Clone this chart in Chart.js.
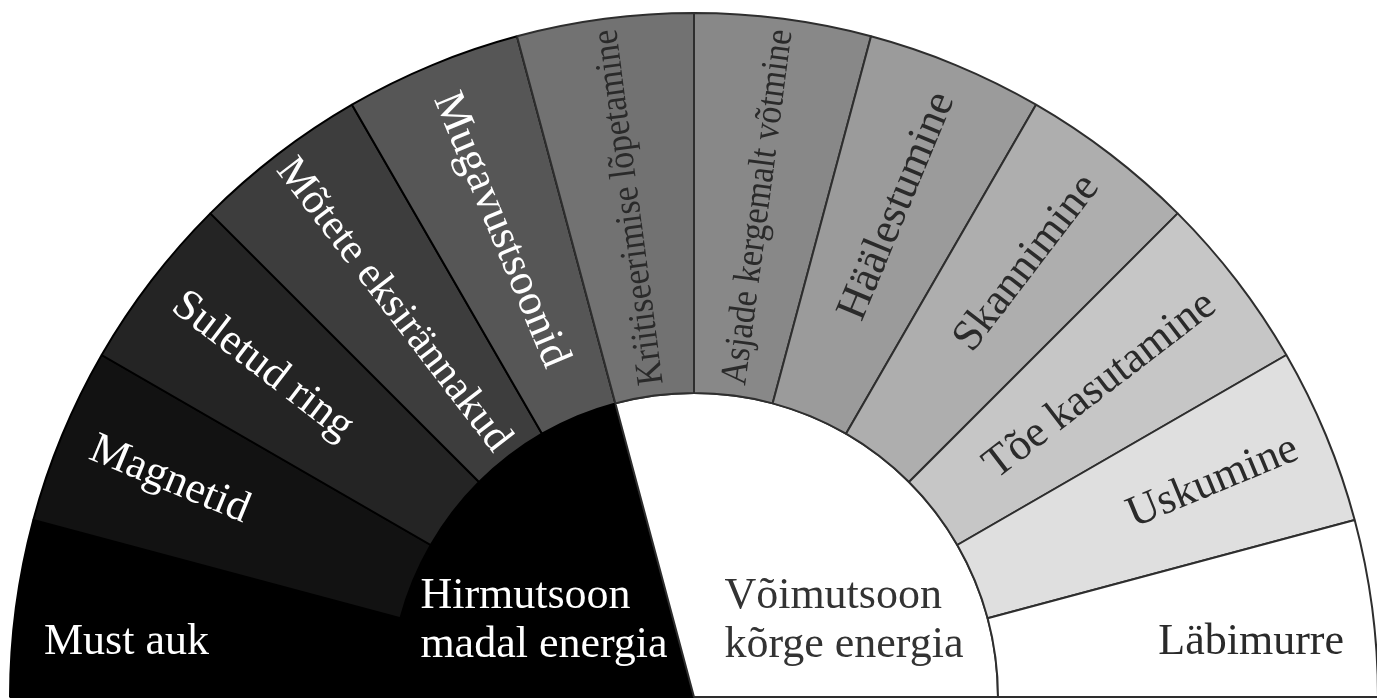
<!DOCTYPE html>
<html>
<head>
<meta charset="utf-8">
<script src="https://cdn.jsdelivr.net/npm/chart.js@4.4.1/dist/chart.umd.min.js"></script>
<style>
  html, body { margin: 0; padding: 0; background: #fff; overflow: hidden; }
  #wrap { width: 1377px; height: 698px; }
</style>
</head>
<body>
<div id="wrap"><canvas id="fan"></canvas></div>
<script>
// Outer ring: the twelve stages, darkest to lightest
const stages = [
  'Must auk', 'Magnetid', 'Suletud ring', 'Mõtete eksirännakud', 'Mugavustsoonid',
  'Kriitiseerimise lõpetamine', 'Asjade kergemalt võtmine', 'Häälestumine',
  'Skannimine', 'Tõe kasutamine', 'Uskumine', 'Läbimurre'
];
const stageShare = [1, 1, 1, 1, 1, 1, 1, 1, 1, 1, 1, 1];
const stageShades = [
  '#000000', '#121212', '#242424', '#3d3d3d', '#565656', '#727272',
  '#888888', '#9b9b9b', '#aeaeae', '#c6c6c6', '#dfdfdf', '#ffffff'
];

// Inner half disc: two zones, counted in stages
const zones = [['Hirmutsoon', 'madal energia'], ['Võimutsoon', 'kõrge energia']];
const zoneShare = [5, 7];
const zoneShades = ['#000000', '#ffffff'];

const FONT = '"Liberation Serif", "Times New Roman", serif';

// Draws the radial stage names and the two zone captions
const fanLabels = {
  id: 'fanLabels',
  afterDatasetsDraw(chart) {
    const ctx = chart.ctx;
    const outer = chart.getDatasetMeta(0).data;
    const inner = chart.getDatasetMeta(1).data;
    const lowEnd = inner[0].endAngle;
    ctx.save();
    ctx.textBaseline = 'middle';

    outer.forEach((arc, i) => {
      const { x, y, startAngle, endAngle, innerRadius, outerRadius } =
        arc.getProps(['x', 'y', 'startAngle', 'endAngle', 'innerRadius', 'outerRadius']);
      const mid = (startAngle + endAngle) / 2;
      const low = mid < lowEnd;
      const text = stages[i];

      let size = 44;
      let squeeze = 1;
      ctx.font = size + 'px ' + FONT;
      let w = ctx.measureText(text).width;
      const maxLen = outerRadius - innerRadius - 22;
      if (w > maxLen) {
        // shrink a little, then condense the rest like a narrow face
        size = Math.max(size * maxLen / w, 38);
        ctx.font = size + 'px ' + FONT;
        w = ctx.measureText(text).width;
        squeeze = Math.min(1, maxLen / w);
        w *= squeeze;
      }
      ctx.fillStyle = low ? '#ffffff' : '#2a2a2a';
      ctx.textAlign = low ? 'left' : 'right';

      if (i === 0 || i === outer.length - 1) {
        // bottom segments keep their text level
        const tx = low ? x - (outerRadius - 34) : x + (outerRadius - 34);
        ctx.fillText(text, tx, y - 0.08 * outerRadius);
        return;
      }

      let rEnd = outerRadius - 32;
      if (rEnd - w < innerRadius + 12) rEnd = (outerRadius + innerRadius) / 2 + w / 2;
      ctx.save();
      ctx.translate(x + rEnd * Math.cos(mid), y + rEnd * Math.sin(mid));
      ctx.rotate(low ? mid + Math.PI : mid);
      ctx.scale(squeeze, 1);
      ctx.fillText(text, 0, 0);
      ctx.restore();
    });

    // zone captions, left aligned two-line blocks
    ctx.font = '44px ' + FONT;
    ctx.textAlign = 'left';
    inner.forEach((arc, i) => {
      const { x, y, outerRadius } = arc.getProps(['x', 'y', 'outerRadius']);
      const left = i === 0 ? x - 0.9 * outerRadius : x + 0.1 * outerRadius;
      ctx.fillStyle = i === 0 ? '#ffffff' : '#333333';
      ctx.fillText(zones[i][0], left, y - 0.33 * outerRadius);
      ctx.fillText(zones[i][1], left, y - 0.17 * outerRadius);
    });
    ctx.restore();
  }
};

new Chart(document.getElementById('fan'), {
  type: 'doughnut',
  data: {
    labels: stages,
    datasets: [
      {
        data: stageShare,
        backgroundColor: stageShades,
        borderColor: stageShades.map((c, i) => (i < zoneShare[0] ? '#000000' : '#2e2e2e')),
        borderWidth: 2,
        weight: 380
      },
      {
        data: zoneShare,
        backgroundColor: zoneShades,
        borderColor: ['#000000', '#2e2e2e'],
        borderWidth: 2,
        weight: 304
      }
    ]
  },
  options: {
    responsive: true,
    maintainAspectRatio: false,
    animation: false,
    events: [],
    rotation: -90,
    circumference: 180,
    cutout: 0,
    radius: 684,
    layout: { padding: { left: 11, right: 0, top: 12, bottom: 0 } },
    plugins: {
      legend: { display: false },
      tooltip: { enabled: false }
    }
  },
  plugins: [fanLabels]
});
</script>
</body>
</html>
